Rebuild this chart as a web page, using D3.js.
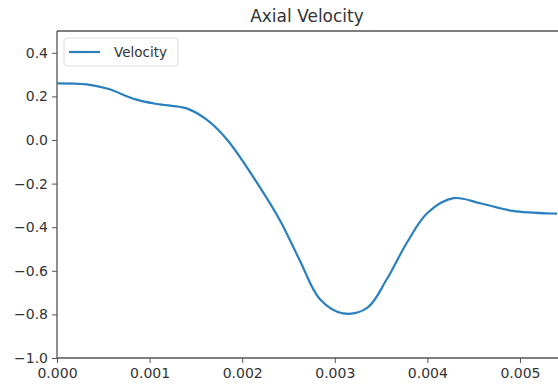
<!DOCTYPE html>
<html>
<head>
<meta charset="utf-8">
<script src="https://cdn.jsdelivr.net/npm/d3@7"></script>
<style>
  body { margin: 0; background: #fff; }
  text { font-family: "DejaVu Sans", sans-serif; fill: #333; }
</style>
</head>
<body>
<div id="chart"></div>
<script>
// values
const time = [0, 0.00032, 0.00054, 0.00086, 0.00108, 0.0014, 0.00162, 0.00184, 0.00219, 0.00241,
  0.00262, 0.00284, 0.00309, 0.00335, 0.00356, 0.00378, 0.0040, 0.00428, 0.00457, 0.00492, 0.00541, 0.0056]
const velocity = [0.26, 0.255, 0.236, 0.185, 0.165, 0.145, 0.092, 0.0, -0.216, -0.37,
  -0.55, -0.73, -0.795, -0.77, -0.64, -0.47, -0.335, -0.267, -0.29, -0.325, -0.338, -0.339]
const xTicks = [0, 0.001, 0.002, 0.003, 0.004, 0.005]
const yTicks = [0.4, 0.2, 0.0, -0.2, -0.4, -0.6, -0.8, -1.0]

var width = 558,
    height = 387,
    margin = {top: 31, right: 1, bottom: 29, left: 57};

var x = d3.scaleLinear()
  .domain([0, 0.0054])
  .range([margin.left, width - margin.right])

var y = d3.scaleLinear()
  .domain([-1.0, 0.5])
  .range([height - margin.bottom, margin.top])

var svg = d3.select('#chart')
  .append('svg')
  .attr('width', width)
  .attr('height', height)

svg.append('clipPath').attr('id', 'clip')
  .append('rect')
  .attr('x', margin.left).attr('y', margin.top)
  .attr('width', width - margin.left - margin.right)
  .attr('height', height - margin.top - margin.bottom)

const fmtMinus = s => s.replace('-', '\u2212')

const xAxis = svg.append('g')
  .attr('transform', `translate(0,${height - margin.bottom})`)
  .call(d3.axisBottom(x).tickValues(xTicks).tickFormat(d => d3.format('.3f')(d)).tickSize(5).tickPadding(5))

const yAxis = svg.append('g')
  .attr('transform', `translate(${margin.left},0)`)
  .call(d3.axisLeft(y).tickValues(yTicks).tickFormat(d => fmtMinus(d3.format('.1f')(d))).tickSize(5).tickPadding(4))

svg.selectAll('.tick text').style('font-size', '14px').attr('fill', '#333')
svg.selectAll('.tick line').attr('stroke', '#555')
svg.selectAll('.domain').remove()

// spines
svg.append('line').attr('x1', margin.left).attr('x2', margin.left)
  .attr('y1', margin.top).attr('y2', height - margin.bottom).attr('stroke', '#555').attr('stroke-width', 1.3)
svg.append('line').attr('x1', margin.left).attr('x2', width)
  .attr('y1', height - margin.bottom).attr('y2', height - margin.bottom).attr('stroke', '#555').attr('stroke-width', 1.3)
svg.append('line').attr('x1', margin.left).attr('x2', width)
  .attr('y1', margin.top).attr('y2', margin.top).attr('stroke', '#555').attr('stroke-width', 1.3)

const line = d3.line()
  .x((d, i) => x(time[i]))
  .y(d => y(d))
  .curve(d3.curveCatmullRom.alpha(0.5))

svg.append('path')
  .datum(velocity)
  .attr('clip-path', 'url(#clip)')
  .attr('d', line)
  .attr('fill', 'none')
  .attr('stroke', '#2a7fbf')
  .attr('stroke-width', 2.2)

svg.append('text')
  .attr('x', (margin.left + width - margin.right) / 2)
  .attr('y', 22)
  .attr('text-anchor', 'middle')
  .style('font-size', '17px')
  .text('Axial Velocity')

// legend
const lg = svg.append('g').attr('transform', 'translate(64,38)')
lg.append('rect').attr('width', 114).attr('height', 28).attr('rx', 3)
  .attr('fill', '#fff').attr('stroke', '#ddd')
lg.append('line').attr('x1', 5).attr('x2', 36).attr('y1', 14).attr('y2', 14)
  .attr('stroke', '#2a7fbf').attr('stroke-width', 2.2)
lg.append('text').attr('x', 50).attr('y', 19).style('font-size', '13.5px').text('Velocity')
</script>
</body>
</html>
